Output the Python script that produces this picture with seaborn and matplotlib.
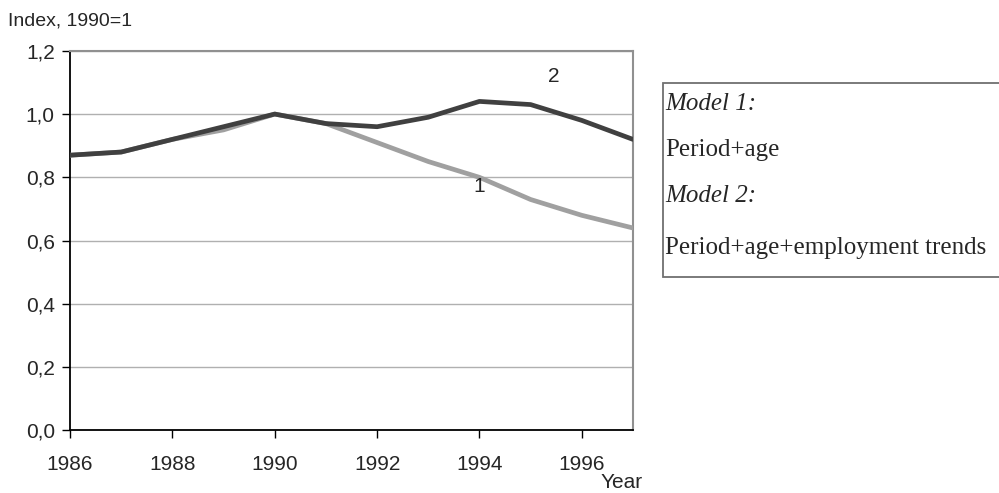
import matplotlib.pyplot as plt
import seaborn as sns
import pandas as pd
from matplotlib.patches import Rectangle

sns.set_style("white")
plt.rcParams['font.family'] = ['Liberation Sans', 'DejaVu Sans']

years = list(range(1986, 1998))
model1 = [0.87, 0.88, 0.92, 0.95, 1.00, 0.97, 0.91, 0.85, 0.80, 0.73, 0.68, 0.64]
model2 = [0.87, 0.88, 0.92, 0.96, 1.00, 0.97, 0.96, 0.99, 1.04, 1.03, 0.98, 0.92]
yticks = [0.0, 0.2, 0.4, 0.6, 0.8, 1.0, 1.2]
xticks = [1986, 1988, 1990, 1992, 1994, 1996]

df = pd.DataFrame({'Year': years * 2,
                   'Index': model1 + model2,
                   'Model': ['1'] * len(years) + ['2'] * len(years)})

fig = plt.figure(figsize=(9.99, 4.93), dpi=100)
ax = fig.add_axes([0.0701, 0.1268, 0.5635, 0.7702])

sns.lineplot(data=df, x='Year', y='Index', hue='Model',
             palette={'1': '#a0a0a0', '2': '#404040'}, linewidth=3.4,
             legend=False, ax=ax, zorder=3)

ax.set_xlim(1986, 1997)
ax.set_ylim(0, 1.2)
ax.set_xticks(xticks)
ax.set_xticklabels([str(x) for x in xticks])
ax.set_yticks(yticks)
ax.set_yticklabels([f"{v:.1f}".replace('.', ',') for v in yticks])
ax.tick_params(axis='both', direction='out', length=6, width=1, color='black',
               labelsize=15, bottom=True, left=True)
ax.tick_params(axis='x', pad=12)
ax.tick_params(axis='y', pad=5)
ax.yaxis.grid(True, color='#b0b0b0', linewidth=1)
ax.set_xlabel('')
ax.set_ylabel('')
for side in ['left', 'bottom']:
    ax.spines[side].set_color('black')
    ax.spines[side].set_linewidth(1.3)
for side in ['top', 'right']:
    ax.spines[side].set_color('#909090')
    ax.spines[side].set_linewidth(1.5)

ax.text(1995.45, 1.12, '2', fontsize=15, ha='center', va='center')
ax.text(1994.0, 0.77, '1', fontsize=15, ha='center', va='center')

fig.text(0.008, 0.958, 'Index, 1990=1', fontsize=14, va='center')
fig.text(0.643, 0.022, 'Year', fontsize=15, ha='right', va='center')

# legend box
fig.patches.append(Rectangle((663 / 999, 1 - 277 / 493), 340 / 999, 194 / 493,
                             transform=fig.transFigure, facecolor='white',
                             edgecolor='#707070', linewidth=1.3))
serif = ['Liberation Serif', 'DejaVu Serif']
fig.text(665 / 999, 1 - 104 / 493, 'Model 1:', fontsize=18, style='italic', family=serif, va='center')
fig.text(665 / 999, 1 - 150 / 493, 'Period+age', fontsize=18, family=serif, va='center')
fig.text(665 / 999, 1 - 196 / 493, 'Model 2:', fontsize=18, style='italic', family=serif, va='center')
fig.text(665 / 999, 1 - 248 / 493, 'Period+age+employment trends', fontsize=18, family=serif, va='center')

fig.savefig('out.png', dpi=100)
